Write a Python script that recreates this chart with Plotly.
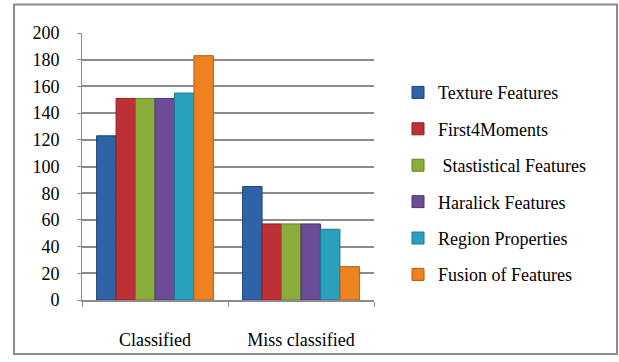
import plotly.graph_objects as go

# Classification results per feature set
categories = ["Classified", "Miss classified"]
series_names = [
    "Texture Features",
    "First4Moments",
    " Stastistical Features",
    "Haralick Features",
    "Region Properties",
    "Fusion of Features",
]
series_values = [
    [123, 85],
    [151, 57],
    [151, 57],
    [151, 57],
    [155, 53],
    [183, 25],
]
series_colors = ["#2f63a8", "#bd3136", "#8aae3c", "#6c4c97", "#2aa0bf", "#ee8120"]
outline_colors = ["#1f4577", "#8a2226", "#62802a", "#4c346d", "#1c7590", "#b55e14"]
y_ticks = [0, 20, 40, 60, 80, 100, 120, 140, 160, 180, 200]

W, H = 619, 362
L, R, T, B = 82, 245, 33, 57

fig = go.Figure()
for i, (name, vals) in enumerate(zip(series_names, series_values)):
    fig.add_trace(go.Bar(
        x=categories,
        y=vals,
        name=name,
        legendgroup=f"g{i}",
        marker=dict(color=series_colors[i],
                    line=dict(color=outline_colors[i], width=1)),
    ))

# outer chart border, expressed in paper units from the margins
pw, ph = W - L - R, H - T - B
def px_x(p):
    return (p - L) / pw
def px_y(p):
    return (H - B - p) / ph

fig.add_shape(type="rect", xref="paper", yref="paper",
              x0=px_x(14), x1=px_x(617), y0=px_y(360), y1=px_y(4),
              line=dict(color="#8c8c8c", width=2), layer="below")

SERIF = "Liberation Serif"

fig.update_layout(
    width=W, height=H,
    margin=dict(l=L, r=R, t=T, b=B),
    paper_bgcolor="white",
    plot_bgcolor="white",
    barmode="group",
    bargap=0.2,
    bargroupgap=0,
    font=dict(family=SERIF, color="#000000", size=18),
    legend=dict(
        xref="paper", yref="paper",
        x=px_x(398), y=px_y(75), xanchor="left", yanchor="top",
        font=dict(family=SERIF, size=18),
        traceorder="grouped",
        tracegroupgap=10,
        bgcolor="rgba(0,0,0,0)",
    ),
    xaxis=dict(
        type="category",
        tickson="boundaries",
        ticks="outside",
        ticklen=5,
        tickcolor="#8c8c8c",
        showline=True,
        linecolor="#8c8c8c",
        linewidth=2,
        showgrid=False,
        ticklabelstandoff=22,
        tickfont=dict(family=SERIF, size=18),
    ),
    yaxis=dict(
        range=[0, 200],
        tickvals=y_ticks,
        ticks="outside",
        ticklen=4,
        tickcolor="#8c8c8c",
        showline=True,
        linecolor="#8c8c8c",
        linewidth=1,
        showgrid=True,
        gridcolor="#8c8c8c",
        gridwidth=1.5,
        zeroline=False,
        tickfont=dict(family=SERIF, size=18),
        ticklabelstandoff=14,
    ),
)

fig.write_html("out.html")
